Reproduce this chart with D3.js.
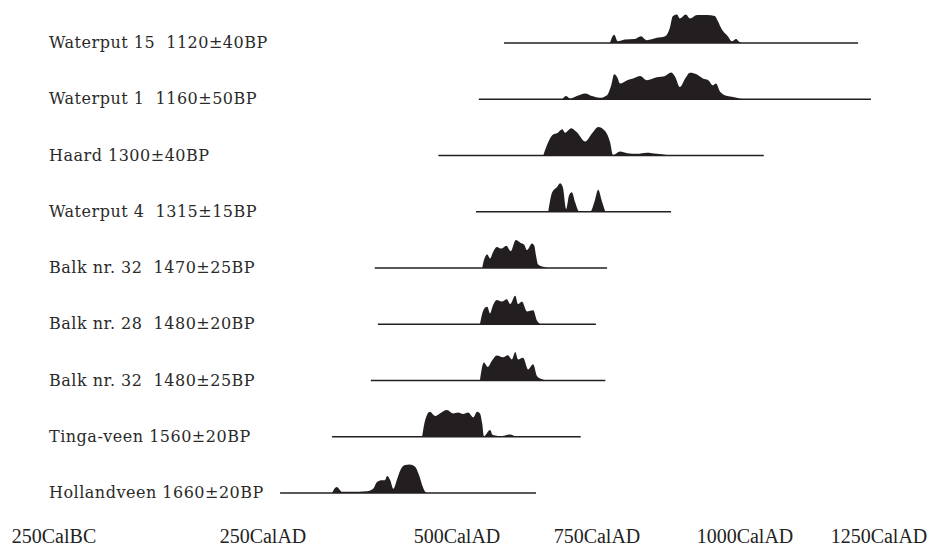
<!DOCTYPE html>
<html>
<head>
<meta charset="utf-8">
<script src="https://cdn.jsdelivr.net/npm/d3@7"></script>
<style>
  body { margin: 0; background: #fff; }
</style>
</head>
<body>
<div id="chart"></div>
<script>
// sample names + 14C dates (top to bottom)
var sampleLabels = [
    "Waterput 15  1120±40BP",
    "Waterput 1  1160±50BP",
    "Haard 1300±40BP",
    "Waterput 4  1315±15BP",
    "Balk nr. 32  1470±25BP",
    "Balk nr. 28  1480±20BP",
    "Balk nr. 32  1480±25BP",
    "Tinga-veen 1560±20BP",
    "Hollandveen 1660±20BP"
]

// extent of the calibration line per sample [from, to] in cal years AD
var lineRanges = [
    [584, 1211], [539, 1235], [476, 1035], [534, 875], [394, 767],
    [398, 748], [389, 764], [339, 721], [272, 641]
]

// axis ticks
var tickYears = [-250, 250, 500, 750, 1000, 1250]
var tickLabels = ["250CalBC", "250CalAD", "500CalAD", "750CalAD", "1000CalAD", "1250CalAD"]

// probability distributions [year, relative probability]
var waterput15 = [[772,0],[779,0.29],[785,0.06],[797,0.12],[814,0.14],[824,0.24],[834,0.10],[851,0.18],[865,0.24],[873,0.53],[878,0.94],[885,1.0],[890,0.86],[900,1.0],[907,0.86],[919,0.98],[936,0.98],[949,0.95],[954,0.77],[961,0.47],[971,0.24],[978,0.06],[985,0.14],[990,0.04],[995,0]]
var waterput1 = [[688,0],[695,0.11],[702,0.02],[714,0.11],[729,0.20],[741,0.11],[755,0.05],[767,0.14],[774,0.49],[779,0.88],[784,0.78],[789,0.55],[801,0.67],[811,0.73],[823,0.82],[834,0.67],[851,0.77],[865,0.82],[875,0.94],[882,0.79],[890,0.43],[899,0.73],[907,0.93],[919,0.87],[929,0.73],[938,0.67],[946,0.49],[951,0.55],[958,0.26],[970,0.11],[980,0.08],[992,0.02],[997,0]]
var haard = [[654,0],[663,0.47],[670,0.71],[680,0.80],[688,0.92],[693,0.80],[704,0.96],[714,0.82],[729,0.49],[741,0.77],[752,1.0],[764,0.85],[772,0.47],[777,0.02],[789,0.14],[801,0.08],[818,0.06],[834,0.10],[851,0.06],[868,0.02],[873,0]]
var waterput4 = [[663,0],[670,0.68],[679,0.88],[684,1.0],[689,0.86],[695,0.10],[700,0.57],[705,0.68],[711,0.33],[718,0.01],[738,0.01],[746,0.39],[752,0.77],[758,0.39],[764,0]]
var balk32a = [[545,0],[548,0.27],[554,0.47],[559,0.33],[564,0.54],[571,0.74],[579,0.68],[588,0.78],[596,0.59],[605,0.98],[613,0.89],[620,0.82],[625,0.63],[634,0.86],[638,0.78],[641,0.45],[645,0.12],[654,0.04],[661,0]]
var balk28 = [[541,0],[548,0.53],[554,0.61],[559,0.38],[564,0.65],[571,0.85],[580,0.80],[589,0.88],[595,0.71],[604,1.0],[609,0.71],[616,0.80],[625,0.45],[636,0.49],[643,0.12],[648,0.02],[652,0]]
var balk32b = [[541,0],[548,0.63],[555,0.47],[562,0.68],[571,0.88],[582,0.82],[591,0.89],[598,0.74],[604,1.0],[609,0.74],[618,0.80],[627,0.39],[636,0.57],[643,0.15],[652,0.04],[657,0]]
var tingaveen = [[455,0],[459,0.59],[465,0.88],[472,0.73],[478,0.82],[487,0.94],[495,0.82],[502,0.85],[511,0.80],[520,0.85],[529,0.68],[536,0.88],[541,0.82],[545,0.47],[548,0.02],[559,0.24],[564,0.06],[577,0.02],[595,0.08],[604,0.02],[607,0]]
var hollandveen = [[339,0],[345,0.21],[352,0.04],[362,0.04],[384,0.06],[392,0.15],[397,0.39],[403,0.45],[407,0.45],[410,0.60],[414,0.45],[418,0.15],[423,0.50],[427,0.80],[433,0.98],[439,1.0],[446,0.92],[451,0.63],[456,0.21],[459,0.04],[461,0]]

var distributions = [waterput15, waterput1, haard, waterput4, balk32a, balk28, balk32b, tingaveen, hollandveen]

var dimensions = {
    width: 929,
    height: 549,
    firstRow: 43,
    lastRow: 493,
    peakHeight: 28.5
}

var ink = "#231f20"

var svg = d3.select("#chart")
    .append("svg")
    .attr("width", dimensions.width)
    .attr("height", dimensions.height)

// the printed axis is not evenly spaced, so a piecewise scale
var xScale = d3.scaleLinear()
    .domain(tickYears)
    .range([54, 263, 457, 597, 745, 879])

var rowScale = d3.scalePoint()
    .domain(d3.range(sampleLabels.length))
    .range([dimensions.firstRow, dimensions.lastRow])

var probScale = d3.scaleLinear()
    .domain([0, 1])
    .range([0, dimensions.peakHeight])

var rows = svg.selectAll("g.row")
    .data(sampleLabels)
    .enter()
    .append("g")
    .attr("class", "row")
    .attr("transform", (d, i) => `translate(0,${rowScale(i)})`)

// labels
rows.append("text")
    .attr("x", 49)
    .attr("y", 5)
    .style("white-space", "pre")
    .attr("font-family", "DejaVu Serif")
    .attr("font-size", "16px")
    .attr("letter-spacing", "0.5px")
    .attr("fill", "#2a2a2a")
    .text(d => d)

// baseline
rows.append("line")
    .attr("x1", (d, i) => xScale(lineRanges[i][0]))
    .attr("x2", (d, i) => xScale(lineRanges[i][1]))
    .attr("y1", 0)
    .attr("y2", 0)
    .attr("stroke", ink)
    .attr("stroke-width", 1.4)

// distribution
var area = d3.area()
    .x(d => xScale(d[0]))
    .y0(0)
    .y1(d => -probScale(d[1]))
    .curve(d3.curveMonotoneX)

rows.append("path")
    .attr("d", (d, i) => area(distributions[i]))
    .attr("fill", ink)

// x labels
svg.append("g")
    .selectAll("text")
    .data(tickYears)
    .enter()
    .append("text")
    .attr("x", d => xScale(d))
    .attr("y", 543)
    .attr("text-anchor", "middle")
    .attr("font-family", "Liberation Serif")
    .attr("font-size", "20px")
    .attr("fill", "#222")
    .text((d, i) => tickLabels[i])
</script>
</body>
</html>
